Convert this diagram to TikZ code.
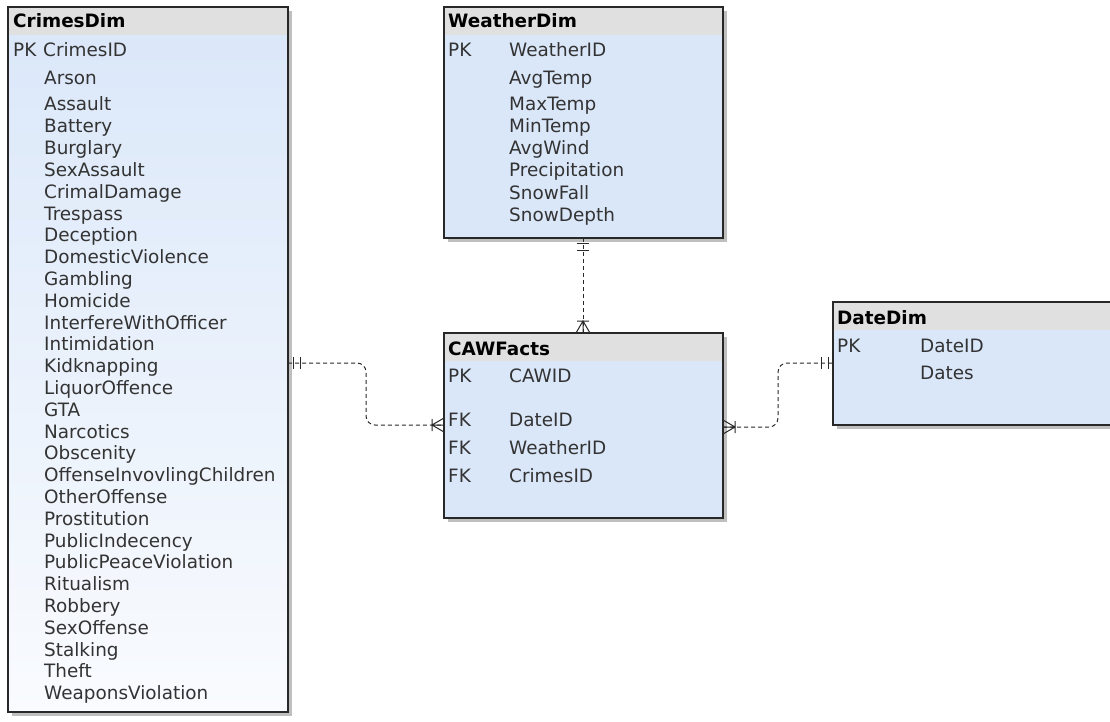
\documentclass[tikz,border=0pt]{standalone}
\usepackage{fontspec}
\setmainfont{DejaVu Sans}
\usetikzlibrary{shadows,calc}

\definecolor{headgray}{RGB}{224,224,224}
\definecolor{bodyblue}{RGB}{218,231,249}
\definecolor{paleblue}{RGB}{249,251,254}
\definecolor{rowtext}{RGB}{51,51,51}
\definecolor{edge}{RGB}{40,40,40}

\tikzset{
  tablebox/.style={draw=edge, line width=1.3pt, fill=bodyblue, anchor=north west,
    inner sep=0pt, outer sep=0pt,
    general shadow={fill=black!25, shadow xshift=4pt, shadow yshift=-4pt},
    path picture={\fill[headgray] (path picture bounding box.north west)
      rectangle ([yshift=-28pt]path picture bounding box.north east);}},
  tabletitle/.style={anchor=base west, inner sep=0pt, font=\fontsize{18.4}{22}\bfseries\selectfont},
  tablerow/.style={anchor=base west, inner sep=0pt, text=rowtext, font=\fontsize{18.4}{22}\selectfont},
  relation/.style={draw=edge, line width=1pt, dash pattern=on 4pt off 3pt, rounded corners=9pt},
  onlyone/.pic={\draw[edge, line width=1pt] (5,-6) -- (5,6) (12,-6) -- (12,6);},
  oneormany/.pic={\draw[edge, line width=1pt] (12,-6) -- (12,6) (0,-7) -- (12,0) -- (0,7) (0,0) -- (12,0);}
}

\begin{document}
\begin{tikzpicture}[x=1pt, y=-1pt]

    \useasboundingbox (0,0) rectangle (1110,722);
    \fill[white] (0,0) rectangle (1110,722);

    % tables
    \node[tablebox, top color=bodyblue, bottom color=paleblue,
          minimum width=280pt, minimum height=705pt] (crimes) at (8,7) {};
    \node[tablebox, minimum width=279pt, minimum height=231pt] (weather) at (444,7) {};
    \node[tablebox, minimum width=279pt, minimum height=185pt] (caw) at (444,333) {};
    \node[tablebox, minimum width=292pt, minimum height=123pt] (date) at (833,302) {};

    % CrimesDim
    \node[tabletitle] (crimestitle) at (13,28) {CrimesDim};
    \node[tablerow] (crimespk) at (13,57) {PK};
    \node[tablerow] (crimesid) at (43,57) {CrimesID};
    \node[tablerow] (arson) at (44,85) {Arson};
    \foreach \crime [count=\i from 0] in {Assault, Battery, Burglary, SexAssault,
        CrimalDamage, Trespass, Deception, DomesticViolence, Gambling, Homicide,
        InterfereWithOfficer, Intimidation, Kidknapping, LiquorOffence, GTA,
        Narcotics, Obscenity, OffenseInvovlingChildren, OtherOffense, Prostitution,
        PublicIndecency, PublicPeaceViolation, Ritualism, Robbery, SexOffense,
        Stalking, Theft, WeaponsViolation}
        \node[tablerow] (c-\crime) at (44,{111+21.8*\i}) {\crime};

    % WeatherDim
    \node[tabletitle] (weathertitle) at (448,28) {WeatherDim};
    \node[tablerow] (weatherpk) at (448,57) {PK};
    \node[tablerow] (weatherid) at (509,57) {WeatherID};
    \node[tablerow] (avgtemp) at (509,85) {AvgTemp};
    \foreach \field [count=\i from 0] in {MaxTemp, MinTemp, AvgWind, Precipitation, SnowFall, SnowDepth}
        \node[tablerow] (w-\field) at (509,{111+22*\i}) {\field};

    % CAWFacts
    \node[tabletitle] (cawtitle) at (448,355) {CAWFacts};
    \node[tablerow] (cawpk) at (448,382) {PK};
    \node[tablerow] (cawid) at (509,382) {CAWID};
    \node[tablerow] (fkdate) at (448,426) {FK};
    \node[tablerow] (cawdate) at (509,426) {DateID};
    \node[tablerow] (fkweather) at (448,454) {FK};
    \node[tablerow] (cawweather) at (509,454) {WeatherID};
    \node[tablerow] (fkcrimes) at (448,482) {FK};
    \node[tablerow] (cawcrimes) at (509,482) {CrimesID};

    % DateDim
    \node[tabletitle] (datetitle) at (837,324) {DateDim};
    \node[tablerow] (datepk) at (837,352) {PK};
    \node[tablerow] (dateid) at (920,352) {DateID};
    \node[tablerow] (dates) at (920,379) {Dates};

    % relations
    \coordinate (crimesport) at ($(crimes.north east)+(0,356)$);
    \coordinate (cawwest) at ($(caw.north west)+(0,92)$);
    \coordinate (weatherport) at ($(weather.south west)+(139,0)$);
    \coordinate (cawnorth) at ($(caw.north west)+(139,0)$);
    \coordinate (caweast) at ($(caw.north east)+(0,94)$);
    \coordinate (dateport) at ($(date.north west)+(0,61)$);

    \draw[relation] (crimesport) -| ($(crimesport)!.5!(cawwest)$) |- (cawwest);
    \draw[relation] (weatherport) -- (cawnorth);
    \draw[relation] (caweast) -| ($(caweast)!.5!(dateport)$) |- (dateport);

    \pic at (crimesport) {onlyone};
    \pic[rotate=180] at (cawwest) {oneormany};
    \pic[rotate=-90] at (weatherport) {onlyone};
    \pic[rotate=90] at (cawnorth) {oneormany};
    \pic at (caweast) {oneormany};
    \pic[rotate=180] at (dateport) {onlyone};

\end{tikzpicture}
\end{document}
